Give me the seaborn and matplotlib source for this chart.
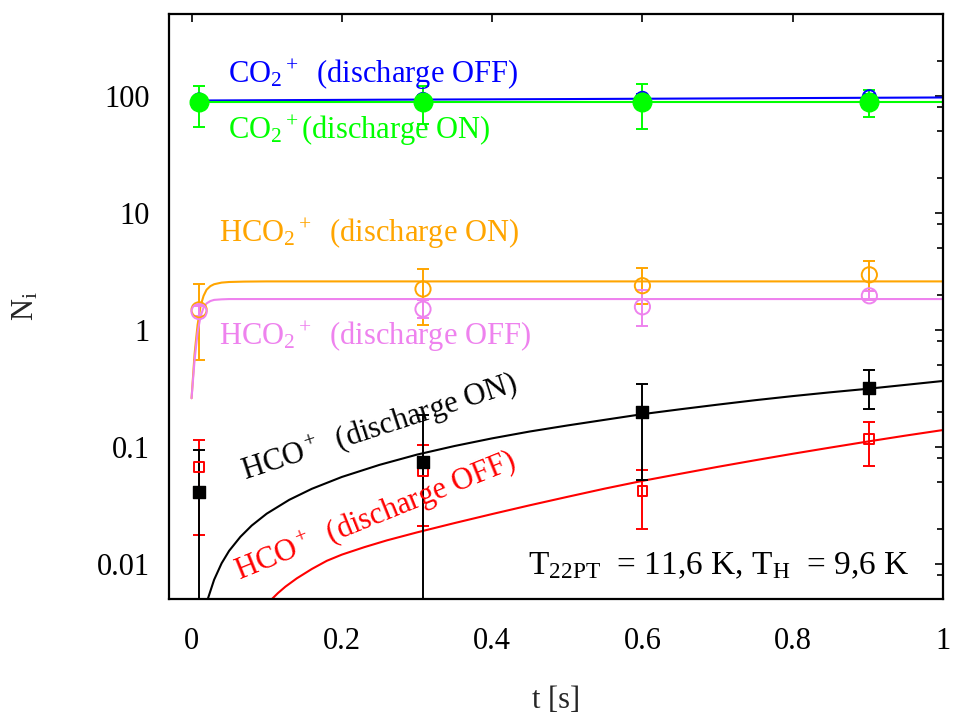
import numpy as np
import matplotlib
matplotlib.use("Agg")
import matplotlib.pyplot as plt
import matplotlib.ticker as mticker
import seaborn as sns

sns.set_theme(style="white")
plt.rcParams['font.family'] = ['Liberation Serif', 'DejaVu Serif']
plt.rcParams['mathtext.fontset'] = 'custom'
plt.rcParams['mathtext.rm'] = 'Liberation Serif'
plt.rcParams['mathtext.it'] = 'Liberation Serif:italic'
plt.rcParams['mathtext.bf'] = 'Liberation Serif:bold'

# ---- measured points ----
t_pts = [0.01, 0.308, 0.6, 0.902]

co2_off = [92, 93, 95, 98]
co2_off_lo = [84, 86, 87, 92]
co2_off_hi = [100, 101, 104, 104]

co2_on = [88, 88, 89, 88]
co2_on_lo = [53.6, 57.6, 52, 65.7]
co2_on_hi = [122, 120, 126, 111]

hco2_on = [1.48, 2.23, 2.38, 2.95]
hco2_on_lo = [0.547, 1.1, 1.67, 2.15]
hco2_on_hi = [2.46, 3.3, 3.4, 3.9]

hco2_off = [1.43, 1.5, 1.57, 1.95]
hco2_off_lo = [1.3, 1.25, 1.08, 1.8]
hco2_off_hi = [1.6, 1.8, 2.2, 2.15]

hco_on = [0.041, 0.074, 0.2, 0.32]
hco_on_lo = [1e-4, 1e-4, 0.052, 0.211]
hco_on_hi = [0.094, 0.188, 0.346, 0.455]

hco_off = [0.067, 0.0625, 0.042, 0.117]
hco_off_lo = [0.0177, 0.021, 0.02, 0.069]
hco_off_hi = [0.115, 0.104, 0.0637, 0.164]

# ---- fitted curves ----
t_co2 = [0.0, 0.25, 0.5, 0.75, 1.0]
fit_co2_off = [91, 92.5, 93.7, 95.2, 96.7]
fit_co2_on = [88, 88, 88, 88, 88]

t_hco2 = [0.0, 0.004, 0.008, 0.012, 0.016, 0.02, 0.025, 0.03, 0.04, 0.05, 0.07, 0.1, 1.0]
fit_hco2_on = [0.26, 0.62, 1.1, 1.6, 1.95, 2.2, 2.36, 2.45, 2.53, 2.56, 2.58, 2.59, 2.59]
fit_hco2_off = [0.26, 0.55, 0.95, 1.3, 1.55, 1.68, 1.76, 1.8, 1.82, 1.83, 1.83, 1.83, 1.83]

t_hco_on = [0.0216, 0.03, 0.04, 0.05, 0.065, 0.08, 0.1, 0.13, 0.16, 0.2, 0.25, 0.3, 0.35,
            0.4, 0.45, 0.5, 0.55, 0.6, 0.65, 0.7, 0.75, 0.8, 0.85, 0.9, 0.95, 1.0]
fit_hco_on = [0.005, 0.0073, 0.0101, 0.0129, 0.017, 0.0212, 0.0268, 0.0352, 0.0437, 0.0552,
              0.070, 0.0857, 0.1015, 0.118, 0.135, 0.152, 0.170, 0.190, 0.209, 0.229, 0.250,
              0.271, 0.292, 0.313, 0.338, 0.365]

t_hco_off = [0.107, 0.115, 0.125, 0.14, 0.16, 0.18, 0.2, 0.23, 0.26, 0.3, 0.35, 0.4, 0.45,
             0.5, 0.55, 0.6, 0.65, 0.7, 0.75, 0.8, 0.85, 0.9, 0.95, 1.0]
fit_hco_off = [0.0050, 0.00562, 0.00638, 0.0075, 0.00902, 0.0106, 0.01197, 0.01387, 0.01585,
               0.01854, 0.02228, 0.0266, 0.0316, 0.0373, 0.0439, 0.0511, 0.0587, 0.0673,
               0.0767, 0.0871, 0.0984, 0.1109, 0.1245, 0.139]

x_ticks = [0, 0.2, 0.4, 0.6, 0.8, 1]
x_tick_labels = ["0", "0.2", "0.4", "0.6", "0.8", "1"]
y_ticks = [0.01, 0.1, 1, 10, 100]
y_tick_labels = ["0.01", "0.1", "1", "10", "100"]

BLUE, GREEN, ORANGE, VIOLET, BLACK, RED = "#0000ff", "#00ff00", "#ffa500", "#ee82ee", "#000000", "#ff0000"
FS = 22

fig = plt.figure(figsize=(9.56, 7.17), dpi=100)
ax = fig.add_axes([0.1768, 0.1646, 0.8096, 0.8159])
ax.set_yscale("log")


def series(t, y, lo, hi, fit_t, fit_y, color, marker, filled, ms):
    y = np.array(y); lo = np.array(lo); hi = np.array(hi)
    sns.lineplot(x=fit_t, y=fit_y, ax=ax, color=color, lw=1.5, estimator=None, sort=False)
    ax.errorbar(t, y, yerr=[y - lo, hi - y], fmt="none", ecolor=color, elinewidth=1.4,
                capsize=4, capthick=1.4)
    if filled:
        sns.scatterplot(x=t, y=y, ax=ax, marker=marker, s=ms, color=color, edgecolor=color,
                        linewidth=1.0, zorder=3)
    else:
        sns.scatterplot(x=t, y=y, ax=ax, marker=marker, s=ms, facecolor="none",
                        edgecolor=color, linewidth=1.4, zorder=3)


series(t_pts, co2_off, co2_off_lo, co2_off_hi, t_co2, fit_co2_off, BLUE, "o", False, 90)
series(t_pts, co2_on, co2_on_lo, co2_on_hi, t_co2, fit_co2_on, GREEN, "o", True, 180)
series(t_pts, hco2_on, hco2_on_lo, hco2_on_hi, t_hco2, fit_hco2_on, ORANGE, "o", False, 120)
series(t_pts, hco2_off, hco2_off_lo, hco2_off_hi, t_hco2, fit_hco2_off, VIOLET, "o", False, 120)
series(t_pts, hco_off, hco_off_lo, hco_off_hi, t_hco_off, fit_hco_off, RED, "s", False, 50)
series(t_pts, hco_on, hco_on_lo, hco_on_hi, t_hco_on, fit_hco_on, BLACK, "s", True, 70)

ax.set_xlim(-0.03, 1.0)
ax.set_ylim(0.005, 500)

ax.set_xticks(x_ticks)
ax.set_xticklabels(x_tick_labels)
ax.set_yticks(y_ticks)
ax.set_yticklabels(y_tick_labels)
ax.yaxis.set_minor_locator(mticker.LogLocator(base=10, subs=[2, 5, 8]))
ax.yaxis.set_minor_formatter(mticker.NullFormatter())
ax.tick_params(axis="both", which="both", direction="in", top=True, right=True,
               colors="black", width=1.2)
ax.tick_params(axis="both", which="major", length=6)
ax.tick_params(axis="both", which="minor", length=4)
ax.tick_params(axis="x", labelsize=FS, pad=20)
ax.tick_params(axis="y", labelsize=FS, pad=14)
for sp in ax.spines.values():
    sp.set_color("black")
    sp.set_linewidth(1.6)

ax.set_xlabel("t [s]", fontsize=FS, labelpad=22)
ax.set_ylabel("N$_\\mathrm{i}$", fontsize=FS, labelpad=40)
ax.grid(False)

ax.text(0.049, 150, "CO$_2$$^+$  (discharge OFF)", color=BLUE, fontsize=FS, ha="left", va="center")
ax.text(0.049, 50, "CO$_2$$^+$(discharge ON)", color=GREEN, fontsize=FS, ha="left", va="center")
ax.text(0.036, 6.6, "HCO$_2$$^+$  (discharge ON)", color=ORANGE, fontsize=FS, ha="left", va="center")
ax.text(0.036, 0.87, "HCO$_2$$^+$  (discharge OFF)", color=VIOLET, fontsize=FS, ha="left", va="center")
ax.text(0.072, 0.052, "HCO$^+$  (discharge ON)", color=BLACK, fontsize=FS, ha="left",
        va="baseline", rotation=18, rotation_mode="anchor")
ax.text(0.064, 0.0072, "HCO$^+$  (discharge OFF)", color=RED, fontsize=FS, ha="left",
        va="baseline", rotation=22, rotation_mode="anchor")
ax.text(0.448, 0.0095, "T$_\\mathrm{22PT}$  = 11,6 K, T$_\\mathrm{H}$  = 9,6 K", color=BLACK,
        fontsize=24, ha="left", va="center")

fig.savefig("out.png", dpi=100)
